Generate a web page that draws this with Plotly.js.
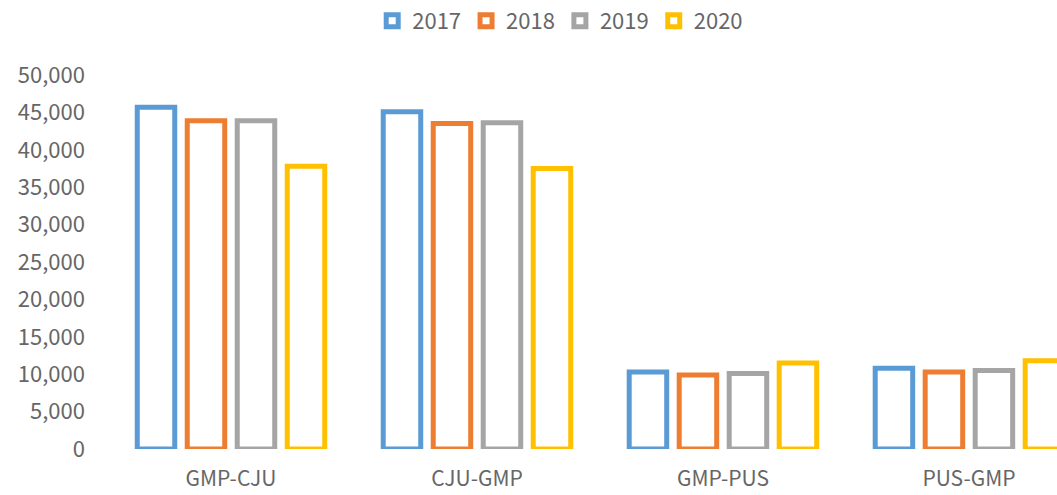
<!DOCTYPE html>
<html>
<head>
<meta charset="utf-8">
<script src="https://cdn.plot.ly/plotly-3.0.1.min.js"></script>
<style>html,body{margin:0;padding:0;background:#fff;}#chart{width:1057px;height:495px;}</style>
</head>
<body>
<div id="chart"></div>
<script>
const routes = ["GMP-CJU", "CJU-GMP", "GMP-PUS", "PUS-GMP"];
const years = ["2017", "2018", "2019", "2020"];
const v2017 = [45700, 45100, 10300, 10800];
const v2018 = [43900, 43500, 9900, 10300];
const v2019 = [43900, 43600, 10100, 10500];
const v2020 = [37800, 37500, 11500, 11800];
const colors = ["#5B9BD5", "#ED7D31", "#A5A5A5", "#FFC000"];
const series = [v2017, v2018, v2019, v2020];

const traces = series.map((vals, i) => ({
  type: "bar",
  name: years[i],
  x: routes,
  y: vals,
  marker: {color: "rgba(255,255,255,1)", line: {color: colors[i], width: 5}},
  hoverinfo: "y+name"
}));

const font = "'Noto Sans CJK KR', 'Noto Sans', sans-serif";
const layout = {
  width: 1057, height: 495,
  margin: {l: 108, r: 0, t: 75, b: 46},
  paper_bgcolor: "#fff", plot_bgcolor: "#fff",
  font: {family: font, color: "#666666", size: 20},
  barmode: "group",
  bargap: 0.187,
  bargroupgap: 0.25,
  showlegend: true,
  legend: {orientation: "h", xref: "container", x: 0.53, xanchor: "center", yref: "container", y: 1, yanchor: "top",
           font: {size: 22, color: "#666666"}, itemwidth: 30, traceorder: "normal"},
  xaxis: {type: "category", range: [-0.5, 3.358], showgrid: false, zeroline: false, showline: false,
          tickfont: {size: 21, color: "#666666"}, ticks: "", ticklabelstandoff: 15, fixedrange: true},
  yaxis: {range: [0, 50000], dtick: 5000, tickformat: ",d", showgrid: false, zeroline: false, showline: false,
          tickfont: {size: 22, color: "#666666"}, ticks: "", ticklabelstandoff: 22, fixedrange: true}
};
Plotly.newPlot("chart", traces, layout, {displayModeBar: false, staticPlot: true});
</script>
</body>
</html>
